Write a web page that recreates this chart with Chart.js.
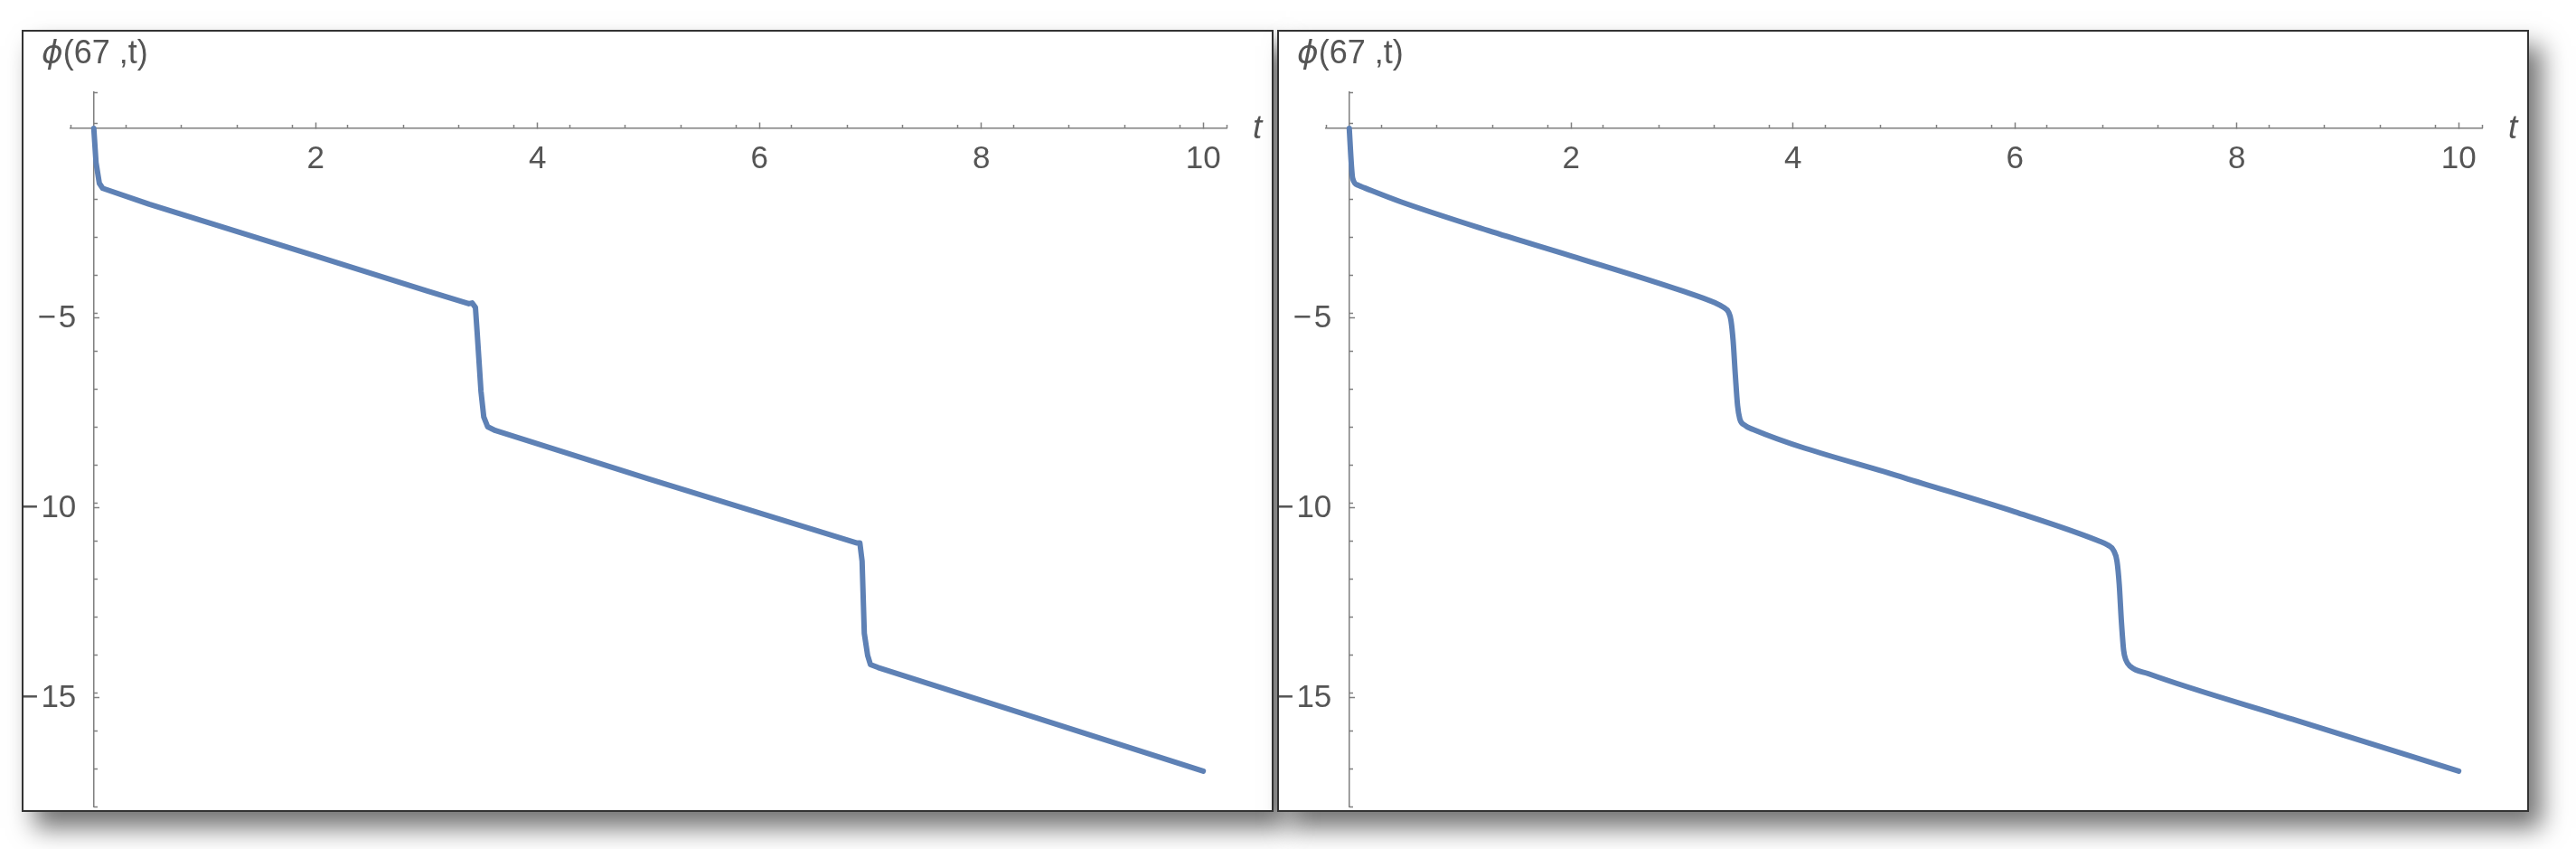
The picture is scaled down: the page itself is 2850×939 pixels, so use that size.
<!DOCTYPE html>
<html>
<head>
<meta charset="utf-8">
<script src="https://cdn.jsdelivr.net/npm/chart.js@4.4.1/dist/chart.umd.min.js"></script>
<style>
  html, body { margin: 0; padding: 0; background: #fff; }
  body { width: 2850px; height: 939px; position: relative; overflow: hidden; font-family: "Liberation Sans", Arial, sans-serif; }
  .panel { position: absolute; top: 33px; width: 1385px; height: 865px; box-sizing: border-box; border: 2px solid #333; background: #fff; box-shadow: 14px 18px 26px rgba(0,0,0,0.55); overflow: hidden; }
  .panel canvas { position: absolute; left: 0; top: 0; }
  .ylab { position: absolute; left: 20px; top: 5px; font-size: 36px; line-height: 1; color: #555; white-space: pre; }
  .ylab .phi { font-family: "DejaVu Sans", sans-serif; font-style: italic; }
  .xlab { position: absolute; left: 1360px; top: 87px; font-size: 37px; line-height: 1; font-style: italic; color: #555; }
</style>
</head>
<body>
<div class="panel" style="left:24px">
  <canvas id="left" width="1381" height="900"></canvas>
  <div class="ylab"><span class="phi">ϕ</span>(67 ,t)</div>
  <div class="xlab">t</div>
</div>
<div class="panel" style="left:1413px">
  <canvas id="right" width="1381" height="900"></canvas>
  <div class="ylab"><span class="phi">ϕ</span>(67 ,t)</div>
  <div class="xlab">t</div>
</div>
<script>
// values
var tLeft = [0, 0.02, 0.05, 0.08, 0.5, 1.05, 2.0, 3.0, 3.38, 3.41, 3.44, 3.455, 3.49, 3.515, 3.55, 3.62,
  5.0, 6.0, 6.88, 6.905, 6.925, 6.945, 6.975, 7.0, 7.07, 8.5, 10.0];
var phiLeft = [0, -0.9, -1.45, -1.58, -2.0, -2.5, -3.36, -4.28, -4.62, -4.6, -4.72, -5.36, -6.93, -7.6, -7.86, -7.96,
  -9.23, -10.13, -10.92, -10.92, -11.4, -13.3, -13.88, -14.12, -14.2, -15.53, -16.93];

var tRight = [0, 0.02, 0.03, 0.08, 0.14, 0.46, 1.25, 2.0, 3.0, 3.3, 3.37, 3.42, 3.44, 3.46, 3.48, 3.5, 3.52, 3.56, 3.64,
  5.0, 6.0, 6.75, 6.84, 6.89, 6.92, 6.94, 6.96, 6.98, 7.0, 7.04, 7.2, 8.5, 10.0];
var phiRight = [0, -1.0, -1.31, -1.5, -1.57, -1.93, -2.69, -3.36, -4.28, -4.6, -4.71, -4.85, -5.05, -5.6, -6.5, -7.3, -7.65, -7.81, -7.93,
  -9.2, -10.1, -10.86, -10.98, -11.12, -11.4, -12.0, -13.0, -13.75, -14.0, -14.17, -14.36, -15.56, -16.93];

var xMajorTicks = [2, 4, 6, 8, 10];
var yMajorTicks = [-5, -10, -15];

var axisColor = '#7f7f7f';
var labelColor = '#555555';
var tickFont = { family: 'Liberation Sans', size: 35 };

function toPoints(ts, ys) {
  return ts.map(function (t, i) { return { x: t, y: ys[i] }; });
}

function makeChart(id, ts, ys, smooth) {
  var ctx = document.getElementById(id).getContext('2d');
  return new Chart(ctx, {
    type: 'line',
    data: {
      datasets: [{
        data: toPoints(ts, ys),
        borderColor: '#5E81B5',
        borderWidth: 6,
        pointRadius: 0,
        borderJoinStyle: 'round',
        borderCapStyle: 'round',
        cubicInterpolationMode: smooth ? 'monotone' : 'default',
        tension: 0
      }]
    },
    options: {
      responsive: false,
      animation: false,
      devicePixelRatio: 1,
      layout: { padding: { left: 52, right: 50, top: 67, bottom: 43 } },
      plugins: { legend: { display: false }, tooltip: { enabled: false } },
      scales: {
        x: {
          type: 'linear', axis: 'x', min: -0.21, max: 10.21, bounds: 'data',
          position: { y: 0 },
          afterBuildTicks: function (s) { s.ticks = xMajorTicks.map(function (v) { return { value: v }; }); },
          grid: { drawOnChartArea: false, tickLength: -7, tickColor: axisColor, tickWidth: 1.5 },
          border: { display: true, color: axisColor, width: 1.5 },
          ticks: { autoSkip: false, maxRotation: 0, padding: 20, color: labelColor, font: tickFont }
        },
        xm: {
          type: 'linear', axis: 'x', min: -0.21, max: 10.21, bounds: 'data',
          position: { y: 0 },
          grid: { drawOnChartArea: false, tickLength: -4, tickColor: axisColor, tickWidth: 1.5 },
          border: { display: false },
          ticks: { stepSize: 0.5, includeBounds: false, autoSkip: false, maxRotation: 0, padding: 0,
            callback: function () { return ''; } }
        },
        y: {
          type: 'linear', axis: 'y', min: -17.86, max: 0.95, bounds: 'data',
          position: { x: 0 },
          afterBuildTicks: function (s) { s.ticks = yMajorTicks.map(function (v) { return { value: v }; }); },
          grid: { drawOnChartArea: false, tickLength: -7, tickColor: axisColor, tickWidth: 1.5 },
          border: { display: true, color: axisColor, width: 1.5 },
          ticks: { autoSkip: false, padding: 0, color: labelColor, font: tickFont,
            callback: function (v) { return '\u2212\u200A' + Math.abs(v) + '  '; } }
        },
        ym: {
          type: 'linear', axis: 'y', min: -17.86, max: 0.95, bounds: 'data',
          position: { x: 0 },
          grid: { drawOnChartArea: false, tickLength: -4, tickColor: axisColor, tickWidth: 1.5 },
          border: { display: false },
          ticks: { stepSize: 1, includeBounds: false, autoSkip: false, padding: 0,
            callback: function () { return ''; } }
        }
      }
    }
  });
}

makeChart('left', tLeft, phiLeft, false);
makeChart('right', tRight, phiRight, true);
</script>
</body>
</html>
